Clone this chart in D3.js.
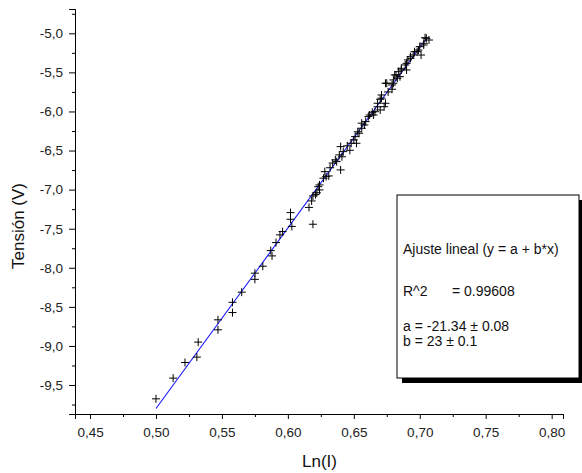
<!DOCTYPE html>
<html>
<head>
<meta charset="utf-8">
<script src="https://cdn.jsdelivr.net/npm/d3@7"></script>
<style>
    body { margin: 0; background: #fff; }
    svg { display: block; font-family: "Liberation Sans", Arial, sans-serif; }
</style>
</head>
<body>
<svg width="582" height="473"></svg>
<script>
// Ln(I) values of the measured points
var lnI = [
    0.500, 0.513, 0.522, 0.531, 0.532, 0.547, 0.547, 0.558, 0.558, 0.565,
    0.575, 0.575, 0.581, 0.587, 0.588, 0.591, 0.594, 0.596, 0.602, 0.602,
    0.603, 0.616, 0.618, 0.619, 0.619, 0.621, 0.622, 0.623, 0.624, 0.624,
    0.627, 0.628, 0.629, 0.631, 0.632, 0.634, 0.636, 0.637, 0.639, 0.640,
    0.640, 0.641, 0.642, 0.645, 0.647, 0.648, 0.650, 0.651, 0.652, 0.653,
    0.654, 0.656, 0.656, 0.658, 0.659, 0.661, 0.662, 0.664, 0.665, 0.666,
    0.668, 0.668, 0.670, 0.670, 0.671, 0.671, 0.673, 0.674, 0.674, 0.675,
    0.676, 0.679, 0.679, 0.680, 0.680, 0.681, 0.682, 0.683, 0.684, 0.685,
    0.686, 0.686, 0.689, 0.690, 0.690, 0.691, 0.693, 0.693, 0.695, 0.696,
    0.698, 0.699, 0.700, 0.701, 0.703, 0.703, 0.704, 0.705, 0.707
];

// Tension (V) of the measured points
var tension = [
    -9.677, -9.412, -9.212, -9.143, -8.951, -8.666, -8.794, -8.442, -8.573, -8.312,
    -8.069, -8.148, -7.980, -7.780, -7.848, -7.678, -7.579, -7.537, -7.294, -7.379,
    -7.471, -7.228, -7.145, -7.081, -7.443, -7.064, -7.040, -6.962, -7.004, -6.940,
    -6.854, -6.770, -6.834, -6.825, -6.720, -6.660, -6.620, -6.642, -6.556, -6.748,
    -6.450, -6.580, -6.514, -6.440, -6.497, -6.407, -6.364, -6.322, -6.407, -6.260,
    -6.279, -6.215, -6.150, -6.173, -6.130, -6.066, -6.045, -6.010, -6.045, -6.003,
    -5.940, -5.895, -5.981, -5.844, -5.789, -5.830, -5.939, -5.895, -5.639, -5.639,
    -5.750, -5.661, -5.716, -5.597, -5.639, -5.533, -5.533, -5.575, -5.491, -5.555,
    -5.448, -5.469, -5.405, -5.469, -5.384, -5.341, -5.299, -5.320, -5.277, -5.235,
    -5.235, -5.214, -5.171, -5.278, -5.128, -5.150, -5.056, -5.064, -5.086
];

// linear fit y = a + b*x, drawn over the measured range
var fitA = -21.345;
var fitB = 23.09;
var fitRange = [0.500, 0.7057];

var xTicks = [0.45, 0.50, 0.55, 0.60, 0.65, 0.70, 0.75, 0.80];
var xMinor = [0.475, 0.525, 0.575, 0.625, 0.675, 0.725, 0.775];
var yTicks = [-9.5, -9.0, -8.5, -8.0, -7.5, -7.0, -6.5, -6.0, -5.5, -5.0];
var yMinor = [-9.75, -9.25, -8.75, -8.25, -7.75, -7.25, -6.75, -6.25, -5.75, -5.25, -4.75];

var legendLines = [
    "Ajuste lineal (y = a + b*x)",
    "R^2",
    "a = -21.34 \u00b1 0.08",
    "b = 23 \u00b1 0.1"
];
var r2Value = "= 0.99608";

(function() {
    var svg = d3.select("svg");

    var x = d3.scaleLinear().domain([0.4386, 0.8086]).range([75, 563]);
    var y = d3.scaleLinear().domain([-9.871, -4.689]).range([414, 9]);

    var comma = function(digits) {
        return function(d) { return d.toFixed(digits).replace(".", ","); };
    };

    //X Axis
    var gx = svg.append("g")
        .attr("transform", "translate(0,414)");
    gx.call(d3.axisBottom(x).tickValues(xMinor).tickSize(3).tickFormat(""));
    gx.append("g")
        .call(d3.axisBottom(x).tickValues(xTicks).tickSize(5).tickPadding(8).tickFormat(comma(2)));

    //Y Axis
    var gy = svg.append("g")
        .attr("transform", "translate(75,0)");
    gy.call(d3.axisLeft(y).tickValues(yMinor).tickSize(3).tickFormat(""));
    gy.append("g")
        .call(d3.axisLeft(y).tickValues(yTicks).tickSize(6).tickPadding(6).tickFormat(comma(1)));

    svg.selectAll(".domain").attr("stroke", "#000").attr("stroke-width", 1);
    svg.selectAll(".tick line").attr("stroke", "#000");
    svg.selectAll(".tick text")
        .attr("fill", "#222")
        .style("font-size", "13.5px")
        .style("font-family", "Liberation Sans, Arial, sans-serif");

    //Axis titles
    svg.append("text")
        .attr("x", 319.5)
        .attr("y", 467)
        .attr("text-anchor", "middle")
        .style("font-size", "17px")
        .attr("fill", "#111")
        .text("Ln(I)");

    svg.append("text")
        .attr("transform", "translate(24,226) rotate(-90)")
        .attr("text-anchor", "middle")
        .style("font-size", "17px")
        .attr("fill", "#111")
        .text("Tensi\u00f3n (V)");

    //Fit line
    var fit = fitRange.map(function(v) { return [v, fitA + fitB * v]; });
    svg.append("path")
        .datum(fit)
        .attr("fill", "none")
        .attr("stroke", "#1515ff")
        .attr("stroke-width", 1.1)
        .attr("d", d3.line()
            .x(function(d) { return x(d[0]); })
            .y(function(d) { return y(d[1]); }));

    //Points as plus marks
    var points = lnI.map(function(v, i) { return { x: v, y: tension[i] }; });
    svg.append("g")
        .selectAll("path")
        .data(points)
        .enter().append("path")
        .attr("transform", function(d) {
            return "translate(" + x(d.x) + "," + y(d.y) + ")";
        })
        .attr("d", "M-4,0H4M0,-4V4")
        .attr("stroke", "#000")
        .attr("stroke-width", 1)
        .attr("fill", "none");

    //Legend box with shadow
    var box = { left: 397, top: 195, right: 579, bottom: 378 };
    svg.append("rect")
        .attr("x", box.left + 5)
        .attr("y", box.top + 5)
        .attr("width", box.right - box.left)
        .attr("height", box.bottom - box.top)
        .attr("fill", "#000");
    svg.append("rect")
        .attr("x", box.left)
        .attr("y", box.top)
        .attr("width", box.right - box.left)
        .attr("height", box.bottom - box.top)
        .attr("fill", "#fff")
        .attr("stroke", "#000")
        .attr("stroke-width", 1);

    var lg = svg.append("g")
        .style("font-size", "14px")
        .attr("fill", "#111");
    var baselines = [254, 296, 331, 346];
    lg.selectAll("text")
        .data(legendLines)
        .enter().append("text")
        .attr("x", 403)
        .attr("y", function(d, i) { return baselines[i]; })
        .text(function(d) { return d; });
    lg.append("text")
        .attr("x", 452)
        .attr("y", 296)
        .text(r2Value);
})();
</script>
</body>
</html>
